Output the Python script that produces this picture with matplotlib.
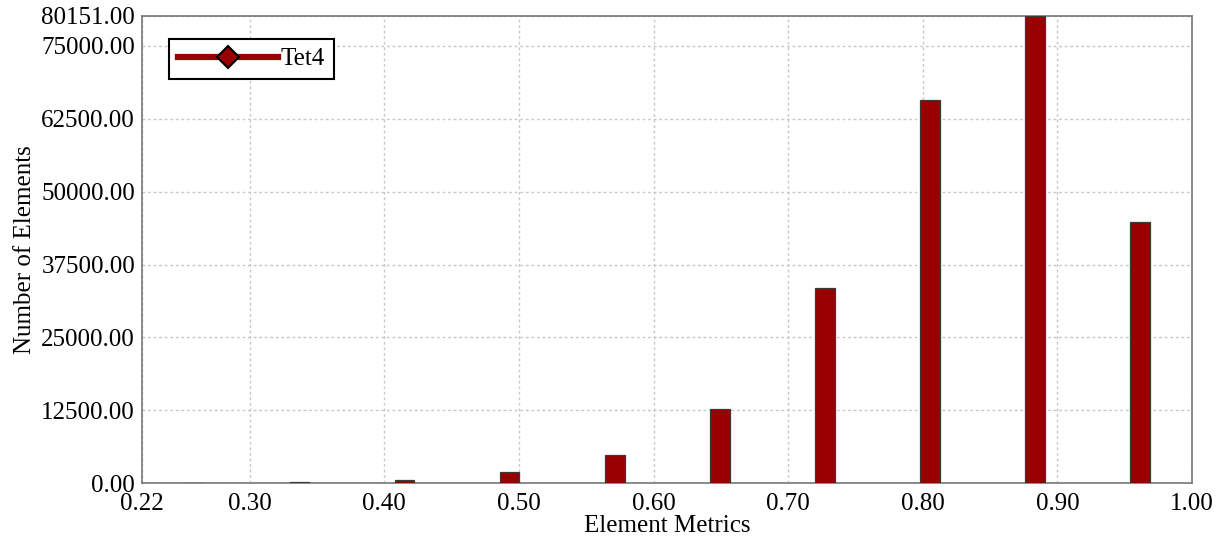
import numpy as np
import matplotlib
matplotlib.use("Agg")
import matplotlib.pyplot as plt
from matplotlib.lines import Line2D

# histogram bins (Element Metrics) and counts per bin
bin_edges = [0.22, 0.298, 0.376, 0.454, 0.532, 0.61, 0.688, 0.766, 0.844, 0.922, 1.00]
counts = [100, 285, 628, 1941, 4909, 12729, 33429, 65654, 80151, 44839]
series_name = "Tet4"

x_ticks = [0.22, 0.30, 0.40, 0.50, 0.60, 0.70, 0.80, 0.90, 1.00]
y_ticks = [0, 12500, 25000, 37500, 50000, 62500, 75000, 80151]

plt.rcParams['font.family'] = ['Liberation Serif', 'DejaVu Serif']
fs = 18

fig = plt.figure(figsize=(12.22, 5.4), dpi=100)
ax = fig.add_axes([0.1162, 0.105, 0.8593, 0.866])

edges = np.array(bin_edges)
centers = (edges[:-1] + edges[1:]) / 2
width = (edges[1] - edges[0]) * 0.19

ax.bar(centers, counts, width=width, color='#990000', edgecolor='#3a3a3a',
       linewidth=0.9, zorder=3)

ax.set_xlim(bin_edges[0], bin_edges[-1])
ax.set_ylim(0, max(counts))
ax.set_xticks(x_ticks)
ax.set_yticks(y_ticks)
ax.set_xticklabels([f"{v:.2f}" for v in x_ticks])
ax.set_yticklabels([f"{v:.2f}" for v in y_ticks])
ax.tick_params(axis='y', length=0, labelsize=fs, pad=5)
ax.tick_params(axis='x', length=0, labelsize=fs, pad=7)

ax.grid(True, color='#c8c8c8', linestyle=(0, (2, 2)), linewidth=1.0, zorder=0)
for s in ax.spines.values():
    s.set_color('#777777')
    s.set_linewidth(1.2)

ax.set_xlabel("Element Metrics", fontsize=fs, labelpad=0)
ax.set_ylabel("Number of Elements", fontsize=fs, labelpad=4)

handle = Line2D([], [], color='#990000', linewidth=4.5, marker='D', markersize=11,
                markerfacecolor='#990000', markeredgecolor='black', markeredgewidth=1.5)
leg = ax.legend([handle], [series_name], loc='upper left', bbox_to_anchor=(0.026, 0.95),
                fontsize=fs, frameon=True, fancybox=False, handlelength=4.0,
                handletextpad=0.1, borderpad=0.35, borderaxespad=0)
leg.get_frame().set_edgecolor('black')
leg.get_frame().set_linewidth(1.5)
leg.get_frame().set_alpha(1)

fig.savefig("out.png", dpi=100)
